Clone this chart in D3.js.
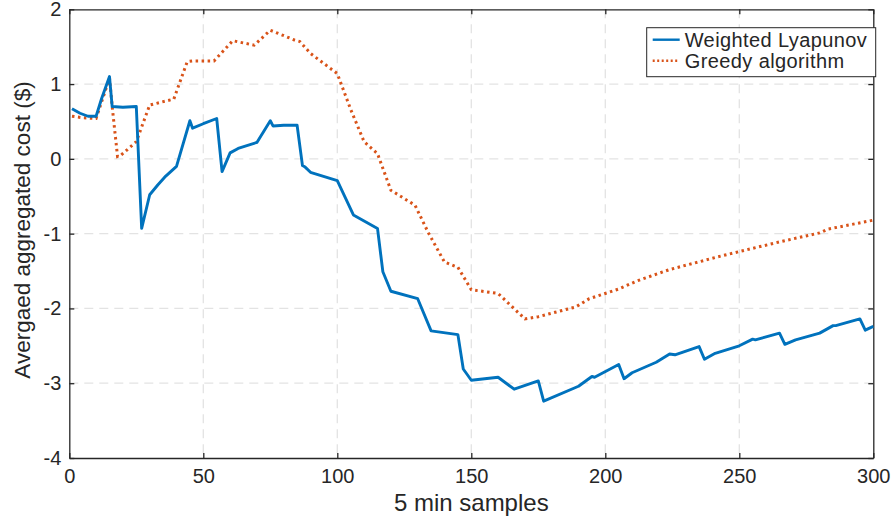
<!DOCTYPE html>
<html>
<head>
<meta charset="utf-8">
<script src="https://cdn.jsdelivr.net/npm/d3@7"></script>
<style>
  body { margin: 0; background: #fff; }
  svg text { font-family: "Liberation Sans", Arial, Helvetica, sans-serif; fill: #262626; }
</style>
</head>
<body>
<div id="chart"></div>
<script>
// series: sample index and averaged cost
var lyapX = [1,4,7,10,12,15,16,20,25,27,30,33,36,40,45,46,50,55,57,60,63,70,75,76,80,85,87,88,90,100,106,115,117,120,130,135,145,147,150,160,166,175,177,190,195,196,205,207,210,219,224,226,235,237,241,250,255,256,265,267,271,280,285,286,295,297,300];
var lyapY = [0.67,0.61,0.57,0.57,0.80,1.10,0.70,0.69,0.70,-0.93,-0.48,-0.35,-0.23,-0.10,0.51,0.41,0.47,0.54,-0.17,0.08,0.14,0.22,0.51,0.44,0.45,0.45,-0.09,-0.11,-0.18,-0.29,-0.75,-0.93,-1.51,-1.77,-1.87,-2.30,-2.35,-2.81,-2.96,-2.92,-3.08,-2.97,-3.24,-3.04,-2.91,-2.92,-2.75,-2.94,-2.86,-2.72,-2.61,-2.62,-2.51,-2.68,-2.60,-2.50,-2.41,-2.42,-2.33,-2.48,-2.42,-2.33,-2.23,-2.23,-2.14,-2.29,-2.24];

var greedyX = [1,5,10,15,16,18,19,25,30,39,44,46,54,61,69,75,84,86,90,100,105,110,115,120,129,134,140,145,150,160,170,175,189,194,205,212,224,242,250,265,280,283,300];
var greedyY = [0.57,0.55,0.54,1.08,0.70,0.03,0.04,0.23,0.72,0.80,1.30,1.31,1.31,1.58,1.52,1.72,1.59,1.57,1.41,1.14,0.66,0.23,0.07,-0.42,-0.62,-0.99,-1.38,-1.45,-1.75,-1.80,-2.14,-2.11,-1.98,-1.87,-1.74,-1.63,-1.48,-1.31,-1.24,-1.11,-0.99,-0.94,-0.82];

var seriesNames = ["Weighted Lyapunov", "Greedy algorithm"];
var xTicks = [0, 50, 100, 150, 200, 250, 300];
var yTicks = [-4, -3, -2, -1, 0, 1, 2];

var margin = {top: 9.3, right: 20.7, bottom: 63, left: 69.3},
    W = 894, H = 521,
    width = W - margin.left - margin.right,
    height = H - margin.top - margin.bottom;

var x = d3.scaleLinear().domain([0, 300]).range([0, width]);
var y = d3.scaleLinear().domain([-4, 2]).range([height, 0]);
var fmt = d3.format("d");
var plain = d => fmt(d).replace("\u2212", "-");

var svg = d3.select("#chart").append("svg")
    .attr("width", W)
    .attr("height", H)
  .append("g")
    .attr("transform", "translate(" + margin.left + "," + margin.top + ")");

// grid
svg.append("g")
  .selectAll("line")
  .data(xTicks.slice(1, -1))
  .enter().append("line")
    .attr("x1", d => x(d)).attr("x2", d => x(d))
    .attr("y1", 0).attr("y2", height)
    .attr("stroke", "#e3e3e3").attr("stroke-width", 1.3)
    .attr("stroke-dasharray", "9,6");
svg.append("g")
  .selectAll("line")
  .data(yTicks.slice(1, -1))
  .enter().append("line")
    .attr("x1", 0).attr("x2", width)
    .attr("y1", d => y(d)).attr("y2", d => y(d))
    .attr("stroke", "#e3e3e3").attr("stroke-width", 1.3)
    .attr("stroke-dasharray", "9,6");

// axes (inward ticks, matlab style)
svg.append("g")
    .attr("transform", "translate(0," + height + ")")
    .call(d3.axisBottom(x).tickValues(xTicks).tickFormat(plain).tickSizeInner(-5).tickSizeOuter(0).tickPadding(11))
    .call(g => g.selectAll("text").style("font-size", "20px"));
svg.append("g")
    .call(d3.axisTop(x).tickValues(xTicks).tickSizeInner(-5).tickSizeOuter(0).tickFormat(""));
svg.append("g")
    .call(d3.axisLeft(y).tickValues(yTicks).tickFormat(plain).tickSizeInner(-5).tickSizeOuter(0).tickPadding(8))
    .call(g => g.selectAll("text").style("font-size", "20px"));
svg.append("g")
    .attr("transform", "translate(" + width + ",0)")
    .call(d3.axisRight(y).tickValues(yTicks).tickSizeInner(-5).tickSizeOuter(0).tickFormat(""));
svg.selectAll(".domain").attr("stroke", "#262626").attr("stroke-width", 1.3);
svg.selectAll(".tick line").attr("stroke", "#262626").attr("stroke-width", 1.3);

// lines
var line = d3.line().x(d => x(d[0])).y(d => y(d[1]));

svg.append("path")
    .datum(d3.zip(greedyX, greedyY))
    .attr("fill", "none")
    .attr("stroke", "#D95319")
    .attr("stroke-width", 3)
    .attr("stroke-dasharray", "2.5,3.5")
    .attr("d", line);

svg.append("path")
    .datum(d3.zip(lyapX, lyapY))
    .attr("fill", "none")
    .attr("stroke", "#0072BD")
    .attr("stroke-width", 2.9)
    .attr("stroke-linejoin", "round")
    .attr("d", line);

// axis labels
svg.append("text")
    .attr("x", width / 2)
    .attr("y", height + 53)
    .attr("text-anchor", "middle")
    .style("font-size", "24px")
    .text("5 min samples");
svg.append("text")
    .attr("transform", "translate(-39," + (230 - margin.top) + ") rotate(-90)")
    .attr("text-anchor", "middle")
    .style("font-size", "22.5px")
    .text("Avergaed aggregated cost ($)");

// legend
var lg = svg.append("g").attr("transform", "translate(" + (646.7 - margin.left) + "," + (27.7 - margin.top) + ")");
lg.append("rect")
    .attr("width", 229).attr("height", 49)
    .attr("fill", "#fff").attr("stroke", "#262626").attr("stroke-width", 1);
var colors = ["#0072BD", "#D95319"];
var dashes = [null, "2,2.5"];
seriesNames.forEach(function(n, i) {
  var row = lg.append("g").attr("transform", "translate(0," + (12 + i * 21) + ")");
  row.append("line")
    .attr("x1", 6).attr("x2", 33).attr("y1", 0).attr("y2", 0)
    .attr("stroke", colors[i]).attr("stroke-width", 2.4)
    .attr("stroke-dasharray", dashes[i]);
  row.append("text")
    .attr("x", 38).attr("y", 7)
    .style("font-size", "20px")
    .style("letter-spacing", "0.4px")
    .text(n);
});
</script>
</body>
</html>
